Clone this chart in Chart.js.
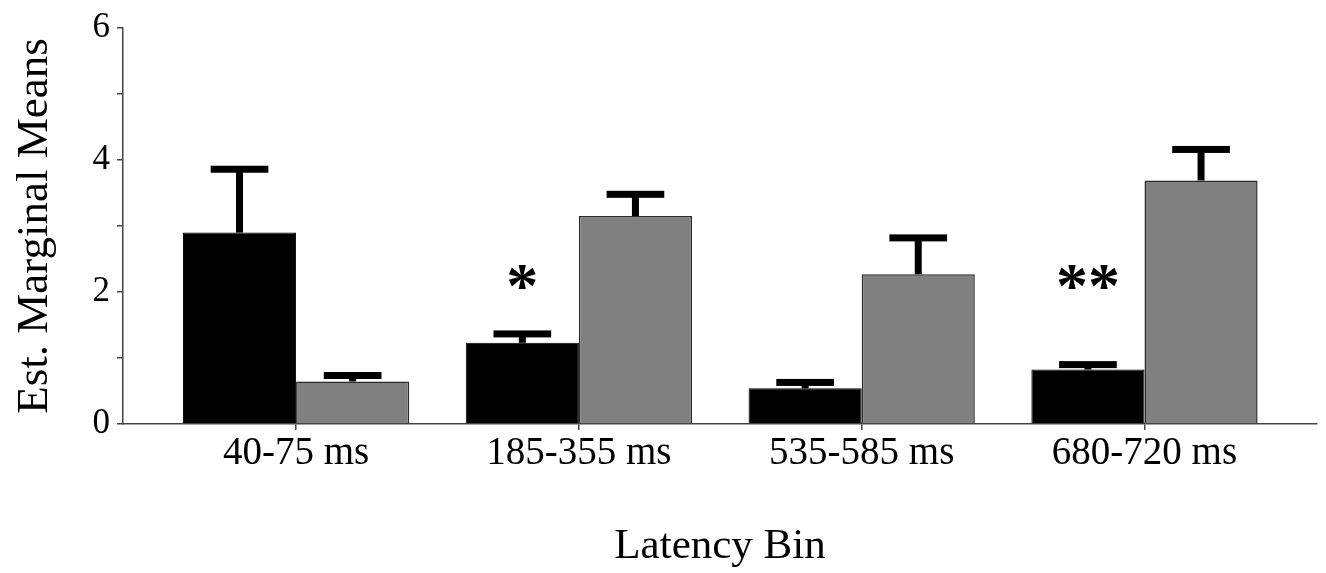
<!DOCTYPE html>
<html>
<head>
<meta charset="utf-8">
<script src="https://cdn.jsdelivr.net/npm/chart.js@4"></script>
<style>
  html, body { margin: 0; padding: 0; background: #fff; }
  #wrap { width: 1326px; height: 573px; position: relative; }
</style>
</head>
<body>
<div id="wrap"><canvas id="c"></canvas></div>
<script>
// ---- data ----
const categories = ['40-75 ms', '185-355 ms', '535-585 ms', '680-720 ms'];
const blackMeans = [2.90, 1.23, 0.54, 0.825];
const blackErr   = [0.96, 0.135, 0.09, 0.075];
const grayMeans  = [0.645, 3.15, 2.27, 3.69];
const grayErr    = [0.09, 0.33, 0.55, 0.47];
const sigLabels  = ['', '*', '', '**'];
const sigLevel   = [0, 2.22, 0, 2.22];
const yTicks     = [0, 1, 2, 3, 4, 5, 6];

const toPoints = arr => arr.map((v, i) => ({ x: i + 1, y: v }));

const errorBars = {
  id: 'errorBars',
  afterDatasetsDraw(chart) {
    const ctx = chart.ctx;
    const ys = chart.scales.y;
    chart.data.datasets.forEach((ds, di) => {
      const meta = chart.getDatasetMeta(di);
      meta.data.forEach((bar, i) => {
        const top = ys.getPixelForValue(ds.data[i].y + ds.errors[i]);
        const capW = bar.width * 0.51;
        ctx.save();
        ctx.fillStyle = '#000';
        ctx.fillRect(bar.x - 3.5, top, 7, bar.y - top);
        ctx.fillRect(bar.x - capW / 2, top - 3.5, capW, 7);
        ctx.restore();
      });
    });
    // significance marks over the black bars
    const meta0 = chart.getDatasetMeta(0);
    ctx.save();
    ctx.fillStyle = '#000';
    ctx.font = 'bold 64px "Liberation Serif", "Times New Roman", serif';
    ctx.textAlign = 'center';
    ctx.textBaseline = 'alphabetic';
    sigLabels.forEach((s, i) => {
      if (!s) return;
      const bar = meta0.data[i];
      const m = ctx.measureText(s);
      const cy = ys.getPixelForValue(sigLevel[i]);
      const base = cy + (m.actualBoundingBoxAscent - m.actualBoundingBoxDescent) / 2;
      ctx.fillText(s, bar.x, base);
    });
    ctx.restore();
  }
};

new Chart(document.getElementById('c'), {
  type: 'bar',
  data: {
    datasets: [
      {
        data: toPoints(blackMeans),
        errors: blackErr,
        backgroundColor: '#000000',
        borderColor: '#000000',
        borderWidth: 1
      },
      {
        data: toPoints(grayMeans),
        errors: grayErr,
        backgroundColor: '#808080',
        borderColor: '#2a2a2a',
        borderWidth: 1.5
      }
    ]
  },
  options: {
    responsive: true,
    maintainAspectRatio: false,
    animation: false,
    layout: { padding: { top: 24, right: 9, left: 0, bottom: 0 } },
    plugins: { legend: { display: false }, tooltip: { enabled: false } },
    datasets: { bar: { categoryPercentage: 0.8, barPercentage: 1.0 } },
    scales: {
      x: {
        type: 'linear',
        offset: false,
        min: 0.388,
        max: 4.61,
        afterBuildTicks: s => { s.ticks = categories.map((c, i) => ({ value: i + 1 })); },
        afterFit: s => { s.height = 149; },
        ticks: {
          callback: v => categories[Math.round(v) - 1] || '',
          color: '#000',
          font: { family: '"Liberation Serif", "Times New Roman", serif', size: 39 },
          padding: 0,
          maxRotation: 0,
          autoSkip: false
        },
        grid: { offset: false, drawOnChartArea: false, drawTicks: true, tickLength: 6, color: '#444', lineWidth: 1.5 },
        border: { display: true, color: '#444', width: 1.5 },
        title: {
          display: true,
          text: 'Latency Bin',
          color: '#000',
          font: { family: '"Liberation Serif", "Times New Roman", serif', size: 43 },
          padding: { top: 0, bottom: 0 }
        }
      },
      y: {
        min: 0,
        max: 6,
        afterBuildTicks: s => { s.ticks = yTicks.map(v => ({ value: v })); },
        afterFit: s => { s.width = 123; },
        ticks: {
          callback: v => (v % 2 === 0 ? String(v) : ''),
          color: '#000',
          font: { family: '"Liberation Serif", "Times New Roman", serif', size: 35 },
          padding: 7
        },
        grid: { drawOnChartArea: false, drawTicks: true, tickLength: 6, color: '#444', lineWidth: 1.5 },
        border: { display: true, color: '#444', width: 1.5 },
        title: {
          display: true,
          text: 'Est. Marginal Means',
          color: '#000',
          font: { family: '"Liberation Serif", "Times New Roman", serif', size: 45 },
          padding: { top: 8, bottom: 0 }
        }
      }
    }
  },
  plugins: [errorBars]
});
</script>
</body>
</html>
